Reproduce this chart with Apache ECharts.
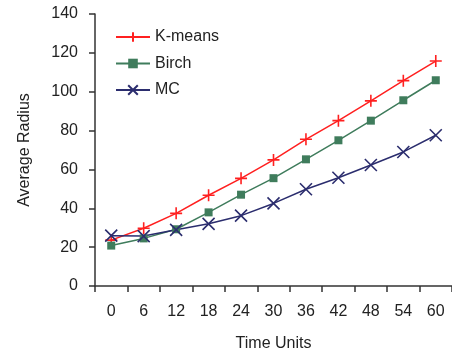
<!DOCTYPE html>
<html>
<head>
<meta charset="utf-8">
<script src="https://cdn.jsdelivr.net/npm/echarts@6/dist/echarts.min.js"></script>
<style>
  html, body { margin: 0; padding: 0; background: #fff; }
  #chart { width: 452px; height: 358px; }
</style>
</head>
<body>
<div id="chart"></div>
<script>
// data
const timeUnits = ['0', '6', '12', '18', '24', '30', '36', '42', '48', '54', '60']
const kmeans = [23.6, 29.7, 37.4, 46.7, 55.4, 64.9, 75.5, 85.1, 95.3, 105.7, 115.8]
const birch = [20.8, 24.5, 29.2, 37.9, 47.0, 55.5, 65.2, 75.0, 85.1, 95.6, 105.9]
const mc = [25.9, 25.7, 28.9, 32.0, 36.2, 42.5, 49.8, 55.7, 62.3, 69.0, 77.6]

const font = 'Liberation Sans, Arial, sans-serif'
const axisColor = '#333'

const plusPath = 'path://M5,0V10M0,5H10'
const crossPath = 'path://M0,0L10,10M10,0L0,10'

const chart = echarts.init(document.getElementById('chart'))

const mkSeries = (name, data, color, symbol, size, strokeOnly) => ({
  name,
  type: 'line',
  data,
  symbol,
  symbolSize: size,
  showSymbol: true,
  lineStyle: { color, width: 1.5 },
  itemStyle: strokeOnly
    ? { color: 'transparent', borderColor: color, borderWidth: 1.6 }
    : { color, borderColor: color, borderWidth: 0 },
  emphasis: { disabled: true },
})

chart.setOption({
  animation: false,
  textStyle: { fontFamily: font },
  grid: { left: 95, right: 0, top: 14, bottom: 72, containLabel: false },
  legend: {
    orient: 'vertical',
    left: 110,
    top: 24,
    itemWidth: 34,
    itemHeight: 12,
    itemGap: 10.5,
    textStyle: { fontFamily: font, fontSize: 16, color: '#222' },
    data: ['K-means', 'Birch', 'MC'],
  },
  xAxis: {
    type: 'category',
    data: timeUnits,
    boundaryGap: true,
    name: 'Time Units',
    nameLocation: 'middle',
    nameGap: 50,
    nameTextStyle: { fontSize: 16, color: '#222', fontFamily: font },
    axisLine: { lineStyle: { color: axisColor, width: 1.5 } },
    axisTick: { show: true, length: 6, lineStyle: { color: axisColor, width: 1.5 } },
    axisLabel: { margin: 18, fontSize: 16, color: '#222', fontFamily: font, interval: 0 },
    splitLine: { show: false },
  },
  yAxis: {
    type: 'value',
    min: 0,
    max: 140,
    interval: 20,
    name: 'Average Radius',
    nameLocation: 'middle',
    nameGap: 62,
    nameTextStyle: { fontSize: 16, color: '#222', fontFamily: font },
    axisLine: { show: true, lineStyle: { color: axisColor, width: 1.5 } },
    axisTick: { show: true, length: 6, lineStyle: { color: axisColor, width: 1.5 } },
    axisLabel: { margin: 17, fontSize: 16, color: '#222', fontFamily: font },
    splitLine: { show: false },
  },
  series: [
    mkSeries('K-means', kmeans, '#ff2020', plusPath, 12, true),
    mkSeries('Birch', birch, '#3f7c5c', 'rect', 8, false),
    mkSeries('MC', mc, '#2b2d6e', crossPath, 12, true),
  ],
})
</script>
</body>
</html>
